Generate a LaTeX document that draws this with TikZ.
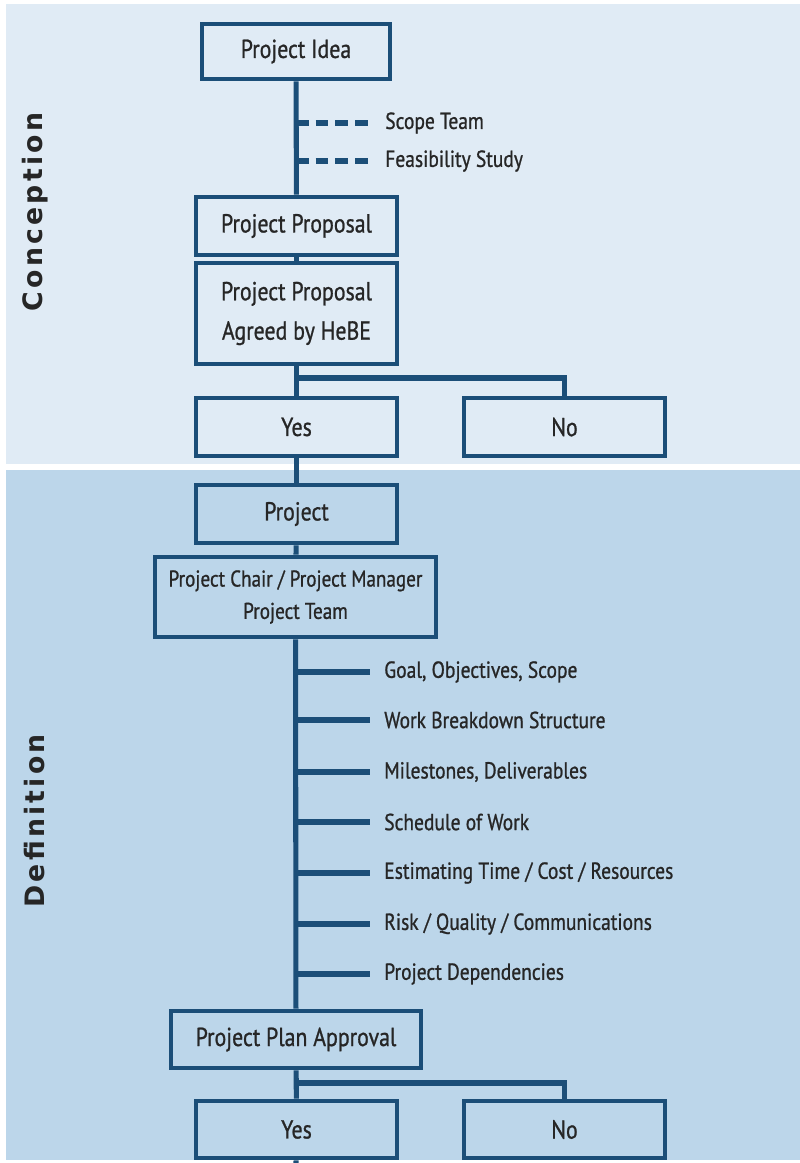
\documentclass[tikz,border=0pt]{standalone}
\usepackage{fontspec}
\setmainfont[FakeStretch=0.84,FakeBold=0.9]{PT Sans}
\newfontfamily\sidefont[LetterSpace=12]{DejaVu Sans}
\usepackage{tikz}

\definecolor{paleblue}{HTML}{E0EBF5}
\definecolor{midblue}{HTML}{BCD6EA}
\definecolor{linkblue}{HTML}{1B4E78}
\definecolor{inkgray}{HTML}{262626}

\tikzset{
  stagebox/.style={draw=linkblue, line width=3.3pt, text=inkgray,
    minimum width=201*0.025cm, minimum height=58*0.025cm, align=center,
    inner sep=2pt, font=\fontsize{18.5}{22}\selectfont},
  link/.style={draw=linkblue, line width=3.6pt},
  tick/.style={draw=linkblue, line width=3.8pt},
  dashtick/.style={draw=linkblue, line width=3.8pt, dash pattern=on 9pt off 5pt},
  itemtext/.style={anchor=west, text=inkgray, inner sep=0pt,
    font=\fontsize{16.5}{20}\selectfont},
  sidetext/.style={rotate=90, text=inkgray, font=\fontsize{19}{22}\sidefont\bfseries}
}

\begin{document}
\begin{tikzpicture}[x=0.025cm,y=-0.025cm]
\useasboundingbox (0,0) rectangle (800,1163);
\fill[white] (0,0) rectangle (800,1163);
\fill[paleblue] (6,4) rectangle (800,464);
\fill[midblue] (6,470) rectangle (800,1160);

\node[sidetext] (conception) at (35,212) {Conception};
\node[sidetext] (definition) at (35,821) {Definition};

% conception stage
\node[stagebox, minimum width=188*0.025cm, minimum height=55*0.025cm] (idea) at (296,51.5) {Project Idea};
\node[stagebox] (proposal) at (296.5,226) {Project Proposal};
\node[stagebox, minimum height=101*0.025cm] (agreed) at (296.5,313.5) {Project Proposal\\[6pt]Agreed by HeBE};
\node[stagebox] (yesone) at (296.5,427) {Yes};
\node[stagebox] (noone) at (564.5,427) {No};

\draw[link] (idea) -- (proposal);
\draw[link] (proposal) -- (agreed);
\draw[link] (agreed) -- (yesone);
\coordinate (splitone) at (296,378);
\draw[link] (splitone) -| (noone.north);

\node[itemtext] (scope) at (385,123) {Scope Team};
\node[itemtext] (feasible) at (385,161) {Feasibility Study};
\draw[dashtick] (296,123) -- ([xshift=-13*0.025cm]scope.west);
\draw[dashtick] (296,161) -- ([xshift=-13*0.025cm]feasible.west);

% definition stage
\node[stagebox] (project) at (296.5,514) {Project};
\node[stagebox, minimum width=281*0.025cm, minimum height=80*0.025cm,
  font=\fontsize{16.2}{20}\selectfont] (chair) at (295.5,597) {Project Chair / Project Manager\\[3pt]Project Team};
\node[stagebox, minimum width=250*0.025cm, minimum height=57*0.025cm] (plan) at (296,1039.5) {Project Plan Approval};
\node[stagebox, minimum height=57*0.025cm] (yestwo) at (296.5,1129.5) {Yes};
\node[stagebox, minimum height=57*0.025cm] (notwo) at (564.5,1129.5) {No};

\draw[link] (yesone) -- (project);
\draw[link] (project) -- (chair);
\draw[link] (chair) -- (plan);
\draw[link] (plan) -- (yestwo);
\coordinate (splittwo) at (296,1083);
\draw[link] (splittwo) -| (notwo.north);
\coordinate (bottomend) at (296,1163);
\draw[link] (yestwo) -- (bottomend);

\foreach \y/\name/\txt in {672/goal/{Goal, Objectives, Scope},
    720/wbs/{Work Breakdown Structure},
    772/miles/{Milestones, Deliverables},
    822/sched/{Schedule of Work},
    873/estim/{Estimating Time / Cost / Resources},
    924/risk/{Risk / Quality / Communications},
    974/depend/{Project Dependencies}}{
  \node[itemtext] (\name) at (384,\y) {\txt};
  \draw[tick] (296,\y) -- ([xshift=-14*0.025cm]\name.west);
}
\end{tikzpicture}
\end{document}
